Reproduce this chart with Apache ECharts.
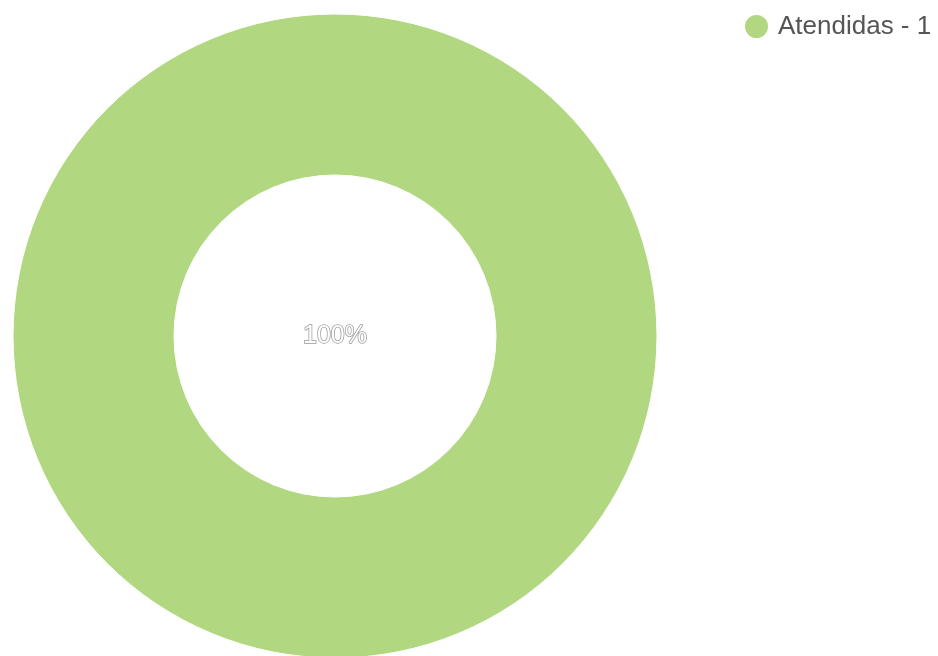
<!DOCTYPE html>
<html>
<head>
<meta charset="utf-8">
<script src="https://cdn.jsdelivr.net/npm/echarts@6/dist/echarts.min.js"></script>
<style>html,body{margin:0;padding:0;background:#fff}#c{width:938px;height:656px}</style>
</head>
<body>
<div id="c"></div>
<script>
const categories = ['Atendidas'];
const values = [1];
const colors = ['#b1d780'];

const chart = echarts.init(document.getElementById('c'));
chart.setOption({
  animation: false,
  color: colors,
  legend: {
    left: 743, top: 13, orient: 'vertical', padding: 0,
    icon: 'circle', itemWidth: 25, itemHeight: 25, itemGap: 10,
    textStyle: { fontSize: 26, color: '#555', fontFamily: 'Liberation Sans, Arial, sans-serif', padding: [0, 0, 0, 4] },
    formatter: function (name) {
      const i = categories.indexOf(name);
      return name + ' - ' + values[i];
    }
  },
  series: [{
    type: 'pie',
    center: [335, 336],
    radius: [161, 322],
    itemStyle: { borderColor: '#fff', borderWidth: 1 },
    label: {
      show: true, position: 'center', formatter: '{d}%',
      color: '#fff', fontSize: 25, fontFamily: 'Liberation Sans, Arial, sans-serif',
      textBorderColor: '#999', textBorderWidth: 1.5, padding: [6, 0, 0, 0]
    },
    labelLine: { show: false },
    data: categories.map((n, i) => ({ name: n, value: values[i] }))
  }]
});
</script>
</body>
</html>
